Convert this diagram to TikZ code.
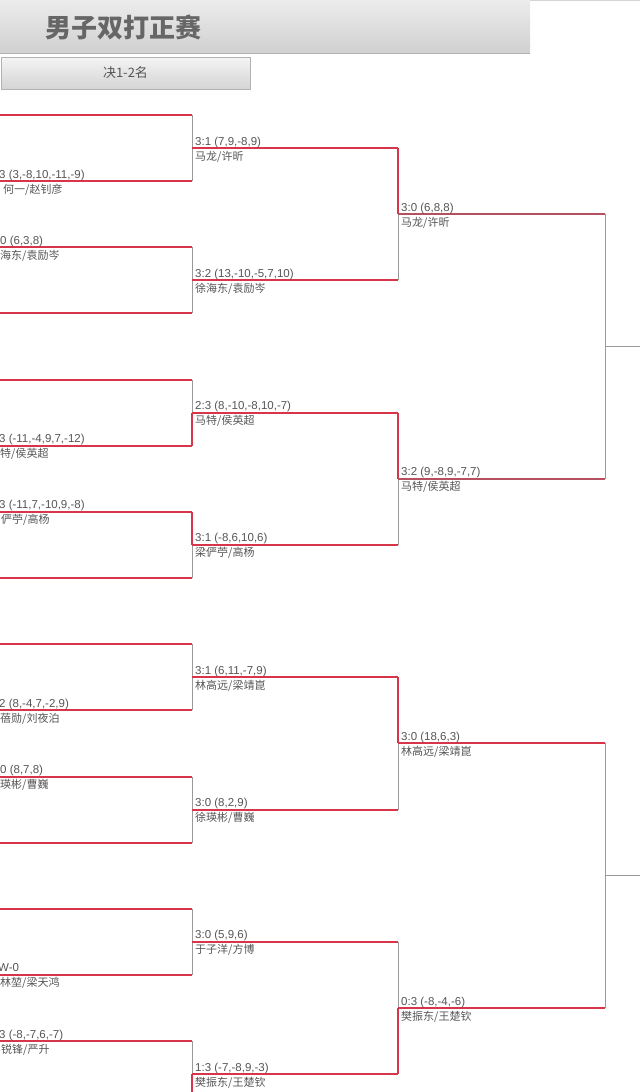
\documentclass[tikz,border=0pt]{standalone}
\usepackage{fontspec}
\setmainfont{Liberation Sans}
\newfontfamily\cjk{Noto Sans CJK SC}
\usetikzlibrary{calc}
\definecolor{bred}{HTML}{D7354A}
\definecolor{bdark}{HTML}{B4505F}
\definecolor{bgrey}{HTML}{9A9A9A}
\definecolor{btext}{HTML}{555555}
\definecolor{hdtop}{HTML}{ECECEC}
\definecolor{hdbot}{HTML}{D0D0D0}

\begin{document}
\begin{tikzpicture}[x=1pt,y=-1pt,
  redln/.style={draw=bred, line width=2pt},
  darkln/.style={draw=bdark, line width=2pt},
  greyln/.style={draw=bgrey, line width=1pt},
  score/.style={anchor=base west, inner sep=0pt, text=btext, font=\fontsize{11.5}{12}\selectfont},
  team/.style={anchor=base west, inner sep=0pt, text=btext, font=\cjk\fontsize{11}{12}\selectfont}]
\useasboundingbox (0,0) rectangle (640,1092);
\clip (0,0) rectangle (640,1092);
% header
\draw[hdtop!90!black, line width=0.5pt] (0,0.5) -- (640,0.5);
\shade[top color=hdtop, bottom color=hdbot] (0,0) rectangle (530,53);
\draw[hdbot!85!black] (0,53) -- (530,53);
\node[anchor=west, inner sep=0pt, text=black!60, font=\cjk\bfseries\fontsize{26}{28}\selectfont] (title) at (45,27) {男子双打正赛};
\shade[top color=hdtop!60, bottom color=hdbot!90, draw=black!30] (1,57) rectangle (250,89);
\node[inner sep=0pt, text=btext, font=\cjk\fontsize{13}{14}\selectfont] (round) at (125.5,73) {决1-2名};
% bracket points
\foreach \k in {0,...,15} {
 \coordinate (L\k) at (0,{115+66.15*\k});
 \coordinate (R\k) at (192,{115+66.15*\k});
}
\foreach \j in {0,...,7} {
 \coordinate (P\j) at (192,{115+66.15*(2*\j+0.5)});
 \coordinate (Q\j) at (398,{115+66.15*(2*\j+0.5)});
}
\foreach \i in {0,...,3} {
 \coordinate (U\i) at (398,{115+66.15*(4*\i+1.5)});
 \coordinate (V\i) at (605,{115+66.15*(4*\i+1.5)});
}
\foreach \h in {0,1} {
 \coordinate (W\h) at (605,{115+66.15*(8*\h+3.5)});
 \coordinate (E\h) at (640,{115+66.15*(8*\h+3.5)});
}
% grey uprights
\foreach \j in {0,...,7} {
 \pgfmathtruncatemacro{\a}{2*\j}
 \pgfmathtruncatemacro{\b}{2*\j+1}
 \draw[greyln] (R\a) -- (R\b);
}
\foreach \i in {0,...,3} {
 \pgfmathtruncatemacro{\a}{2*\i}
 \pgfmathtruncatemacro{\b}{2*\i+1}
 \draw[greyln] (Q\a) -- (Q\b);
}
\foreach \h in {0,1} {
 \pgfmathtruncatemacro{\a}{2*\h}
 \pgfmathtruncatemacro{\b}{2*\h+1}
 \draw[greyln] (V\a) -- (V\b);
 \draw[greyln] (W\h) -- (E\h);
}
% winners' halves
\draw[redln] (P2) -- (R5);
\draw[redln] (R6) -- (P3);
\draw[redln] (P7) -- (R15);
\draw[redln] (Q0) -- (U0);
\draw[redln] (Q2) -- (U1);
\draw[redln] (Q4) -- (U2);
\draw[redln] (U3) -- (Q7);
% lines
\foreach \k in {0,...,15}
 \draw[redln] (L\k) -- (R\k);
\foreach \j in {0,...,7}
 \draw[redln] (P\j) -- (Q\j);
\draw[darkln] (U0) -- (V0);
\draw[darkln] (U1) -- (V1);
\draw[redln] (U2) -- (V2);
\draw[redln] (U3) -- (V3);
% first round, cut at the left
\foreach \k/\x/\y/\s/\t in {1/-1/3/{3 (3,-8,10,-11,-9)}/{何一/赵钊彦}, 2/0/0/{0 (6,3,8)}/{海东/袁励岑},
 5/-1/0/{3 (-11,-4,9,7,-12)}/{特/侯英超}, 6/-1/1/{3 (-11,7,-10,9,-8)}/{俨苧/高杨},
 9/-1/0/{2 (8,-4,7,-2,9)}/{蓓勋/刘夜泊}, 10/0/0/{0 (8,7,8)}/{瑛彬/曹巍},
 13/-2/0/{W-0}/{林堃/梁天鸿}, 14/-1/1/{3 (-8,-7,6,-7)}/{锐锋/严升}} {
 \node[score, xshift=\x pt, yshift=3pt] (s\k) at (L\k) {\s};
 \node[team, xshift=\y pt, yshift=-12pt] (t\k) at (L\k) {\t};
}
% second round
\foreach \j/\s/\t in {0/{3:1 (7,9,-8,9)}/{马龙/许昕}, 1/{3:2 (13,-10,-5,7,10)}/{徐海东/袁励岑},
 2/{2:3 (8,-10,-8,10,-7)}/{马特/侯英超}, 3/{3:1 (-8,6,10,6)}/{梁俨苧/高杨},
 4/{3:1 (6,11,-7,9)}/{林高远/梁靖崑}, 5/{3:0 (8,2,9)}/{徐瑛彬/曹巍},
 6/{3:0 (5,9,6)}/{于子洋/方博}, 7/{1:3 (-7,-8,9,-3)}/{樊振东/王楚钦}} {
 \node[score, xshift=3pt, yshift=3pt] (ss\j) at (P\j) {\s};
 \node[team, xshift=3pt, yshift=-12pt] (tt\j) at (P\j) {\t};
}
% third round
\foreach \i/\s/\t in {0/{3:0 (6,8,8)}/{马龙/许昕}, 1/{3:2 (9,-8,9,-7,7)}/{马特/侯英超},
 2/{3:0 (18,6,3)}/{林高远/梁靖崑}, 3/{0:3 (-8,-4,-6)}/{樊振东/王楚钦}} {
 \node[score, xshift=3pt, yshift=3pt] (sss\i) at (U\i) {\s};
 \node[team, xshift=3pt, yshift=-12pt] (ttt\i) at (U\i) {\t};
}
\end{tikzpicture}
\end{document}
